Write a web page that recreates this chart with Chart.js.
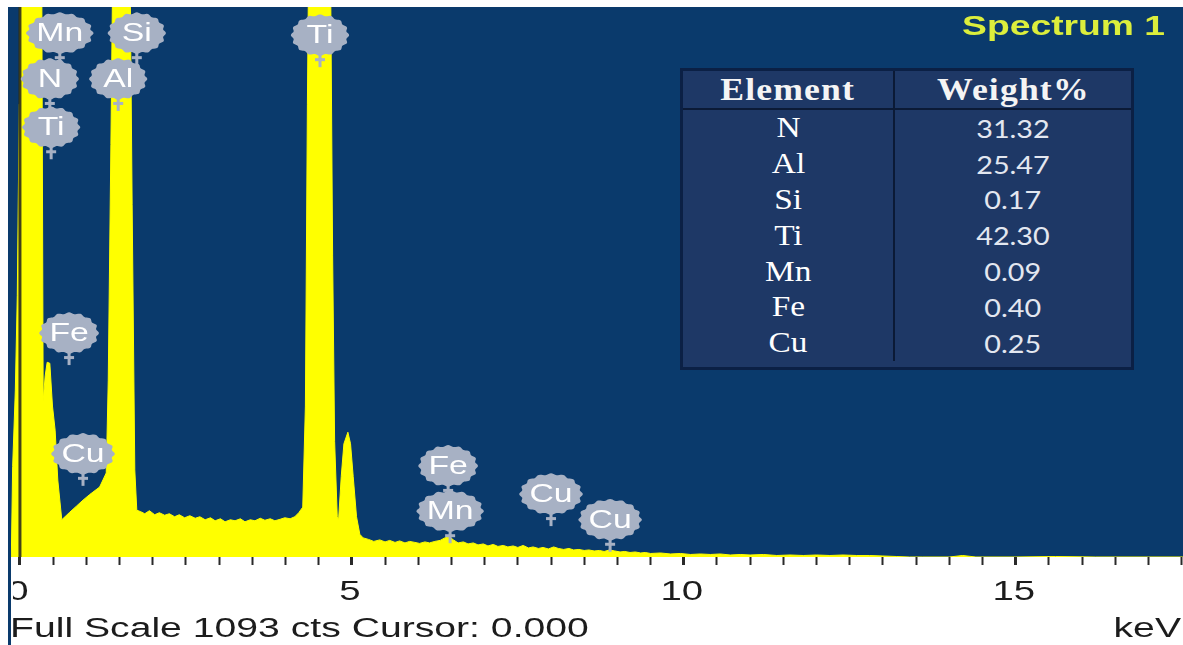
<!DOCTYPE html>
<html>
<head>
<meta charset="utf-8">
<script src="https://cdn.jsdelivr.net/npm/chart.js@4"></script>
<style>
  html, body { margin: 0; padding: 0; background: #ffffff; width: 1183px; height: 645px; overflow: hidden; }
  #wrap { position: relative; width: 1183px; height: 645px; }
  #chart { position: absolute; left: 0; top: 0; }
  #tblbox { position: absolute; left: 680px; top: 68px; width: 454px; height: 302px; box-sizing: border-box;
            border: 3px solid #0b2045; background: #1e3866; }
  #tbl { border-collapse: collapse; width: 100%; }
  #tbl th { height: 37px; padding: 0; border-bottom: 2px solid #0b1a36; color: #f4f4f4; text-align: center;
            font: bold 31px "Liberation Serif", "Times New Roman", serif; letter-spacing: 1px; }
  #tbl td { height: 35.8px; padding: 0; text-align: center; line-height: 30px; }
  #tbl th:first-child, #tbl td:first-child { border-right: 2px solid #0b1a36; width: 210px; }
  #tbl td.el { font: 29px "Liberation Serif", "Times New Roman", serif; color: #ffffff; }
  #tbl td.wt { font: 25px Lato, "Open Sans", sans-serif; color: #e3e7f0; }
  #tbl span { display: inline-block; transform: scaleX(1.15); }
</style>
</head>
<body>
<div id="wrap">
  <canvas id="chart" width="1183" height="645"></canvas>
  <div id="tblbox">
    <table id="tbl"><thead><tr><th><span>Element</span></th><th><span>Weight%</span></th></tr></thead><tbody id="tbody"></tbody></table>
  </div>
</div>
<script>
// ---------- data ----------
const energyKeV = [
  -0.18, -0.13, -0.11, -0.07, -0.04, -0.01, 0.00, 0.05, 0.15, 0.25, 0.32, 0.35, 0.38, 0.41, 0.45, 0.49, 0.53, 0.57, 0.63,
  0.75, 0.85, 0.95, 1.05, 1.20, 1.30, 1.33, 1.37, 1.40, 1.45, 1.50, 1.56, 1.62, 1.66, 1.69, 1.73, 1.76,
  1.82, 1.88, 1.95, 2.03, 2.10, 2.18, 2.25, 2.33, 2.40, 2.48, 2.56, 2.64, 2.71, 2.79, 2.87, 2.94, 3.02, 3.09, 3.17,
  3.24, 3.32, 3.39, 3.47, 3.54, 3.62, 3.69, 3.77, 3.84, 3.92, 3.99, 4.07, 4.14, 4.20, 4.26,
  4.30, 4.33, 4.37, 4.43, 4.50, 4.57, 4.63, 4.68, 4.71, 4.74, 4.78, 4.80, 4.84, 4.88, 4.94, 4.98, 5.02, 5.07, 5.12, 5.17,
  5.25, 5.33, 5.42, 5.50, 5.57, 5.65, 5.72, 5.80, 5.87, 5.95, 6.02, 6.10, 6.17, 6.25, 6.33, 6.40, 6.47, 6.53, 6.60,
  6.68, 6.75, 6.83, 6.90, 6.98, 7.05, 7.13, 7.20, 7.28, 7.35, 7.43, 7.50, 7.58, 7.66, 7.73, 7.81, 7.88, 7.96, 8.04,
  8.11, 8.19, 8.27, 8.34, 8.42, 8.50, 8.57, 8.65, 8.73, 8.80, 8.88, 8.96, 9.04, 9.11, 9.19, 9.27, 9.35, 9.42, 9.50,
  9.65, 9.80, 9.95, 10.10, 10.25, 10.40, 10.55, 10.70, 10.85, 11.00, 11.20, 11.40, 11.60, 11.80, 12.00, 12.20, 12.40,
  12.60, 12.80, 13.00, 13.20, 13.40, 13.60, 14.00, 14.20, 14.40, 15.00, 15.60, 16.20, 17.00, 17.52
];
const counts = [
  0, 0, 180, 330, 520, 900, 1400, 1700, 2100, 1900, 1500, 310, 360, 387, 385, 300, 252, 153, 74,
  89, 101, 113, 124, 139, 167, 350, 820, 1200, 2600, 3000, 2400, 1600, 1150, 700, 173, 93,
  90, 86, 92, 84, 88, 83, 86, 80, 84, 78, 82, 77, 80, 74, 78, 72, 76, 70, 74,
  72, 76, 70, 74, 72, 77, 73, 76, 72, 75, 78, 76, 80, 88, 99,
  300, 900, 1500, 2600, 3000, 2500, 1600, 1150, 600, 230, 80, 74, 160, 225, 248, 225, 160, 80, 45, 38,
  35, 31, 34, 30, 33, 29, 32, 28, 31, 29, 27, 30, 28, 31, 33, 38, 40, 34, 28,
  30, 26, 28, 24, 26, 22, 25, 21, 23, 20, 22, 19, 23, 18, 20, 17, 19, 16, 20,
  17, 15, 17, 14, 15, 13, 14, 12, 13, 11, 14, 12, 10, 11, 9, 10, 8, 9, 7,
  8, 6, 7, 5, 6, 5, 6, 4, 5, 4, 5, 3, 4, 3, 4, 3, 4,
  3, 3, 2, 1, 0, 0, 0, 3, 0, 0, 1, 0, 0, 0
];
const markerNames  = ['Mn', 'Si', 'Ti', 'N', 'Al', 'Ti', 'Fe', 'Cu', 'Fe', 'Mn', 'Cu', 'Cu'];
const markerKeV    = [0.60, 1.76, 4.52, 0.45, 1.48, 0.47, 0.74, 0.95, 6.45, 6.48, 8.00, 8.89];
const markerCounts = [1041, 1041, 1037, 950, 950, 854, 445, 205, 181, 91, 125, 74];
const tickValues = [0, 5, 10, 15];
const tickLabels = ['0', '5', '10', '15'];
const tableElements = ['N', 'Al', 'Si', 'Ti', 'Mn', 'Fe', 'Cu'];
const tableWeights  = ['31.32', '25.47', '0.17', '42.30', '0.09', '0.40', '0.25'];
const fullScale = 1093;
const cursorKeV = 0;
const axisMinKeV = -0.18;
const axisMaxKeV = 17.52;
const spectrumTitle = 'Spectrum 1';
const unitLabel = 'keV';

// ---------- table ----------
const tb = document.getElementById('tbody');
tableElements.forEach((el, i) => {
  const tr = document.createElement('tr');
  tr.innerHTML = '<td class="el"><span>' + el + '</span></td><td class="wt"><span>' + tableWeights[i] + '</span></td>';
  tb.appendChild(tr);
});

// ---------- helpers ----------
const SANS = '"Liberation Sans", Arial, sans-serif';
function stretchText(ctx, text, x, y, font, color, sx, align) {
  ctx.save();
  ctx.font = font;
  ctx.fillStyle = color;
  ctx.textBaseline = 'middle';
  ctx.textAlign = 'left';
  const w = ctx.measureText(text).width * sx;
  const left = align === 'center' ? x - w / 2 : (align === 'right' ? x - w : x);
  ctx.translate(left, y);
  ctx.scale(sx, 1);
  ctx.fillText(text, 0, 0);
  ctx.restore();
  return w;
}
function blob(ctx, cx, cy, w, h, color) {
  ctx.save();
  ctx.fillStyle = color;
  ctx.beginPath();
  const n = 16, steps = 160;
  for (let i = 0; i <= steps; i++) {
    const t = i / steps * Math.PI * 2;
    const r = 1 + 0.04 * Math.cos(n * t);
    const px = cx + (w / 2) * r * Math.cos(t);
    const py = cy + (h / 2) * r * Math.sin(t);
    if (i === 0) ctx.moveTo(px, py); else ctx.lineTo(px, py);
  }
  ctx.closePath();
  ctx.fill();
  ctx.restore();
}

const PLOT_BG = '#0a3a6c';
const BLOB = '#a7b1c4';

const backgroundPlugin = {
  id: 'bg',
  beforeDraw(chart) {
    const { ctx, chartArea: a } = chart;
    ctx.save();
    ctx.fillStyle = '#ffffff';
    ctx.fillRect(0, 0, chart.width, chart.height);
    ctx.fillStyle = PLOT_BG;
    ctx.fillRect(a.left, a.top, a.right - a.left, a.bottom - a.top);
    ctx.restore();
  }
};

const overlayPlugin = {
  id: 'overlay',
  afterDatasetsDraw(chart) {
    const { ctx, chartArea: a, scales } = chart;
    const xs = scales.x, ys = scales.y;
    // cursor line
    const cx = xs.getPixelForValue(cursorKeV);
    ctx.save();
    ctx.strokeStyle = 'rgba(45,45,25,0.9)';
    ctx.lineWidth = 3;
    ctx.beginPath();
    ctx.moveTo(cx, a.top);
    ctx.lineTo(cx, a.bottom);
    ctx.stroke();
    ctx.restore();
    // element markers
    ctx.save();
    ctx.beginPath();
    ctx.rect(a.left, a.top, a.right - a.left, a.bottom - a.top);
    ctx.clip();
    markerNames.forEach((name, i) => {
      const px = xs.getPixelForValue(markerKeV[i]);
      const py = ys.getPixelForValue(markerCounts[i]);
      ctx.font = '25px ' + SANS;
      const tw = ctx.measureText(name).width * 1.35;
      const w = Math.max(56, tw + 18), h = 40;
      // stem
      ctx.fillStyle = BLOB;
      ctx.fillRect(px - 1.5, py + h / 2 - 2, 3, 14);
      ctx.fillRect(px - 5, py + h / 2 + 3, 10, 3);
      blob(ctx, px, py, w, h, BLOB);
      stretchText(ctx, name, px, py + 1, '25px ' + SANS, '#ffffff', 1.35, 'center');
    });
    ctx.restore();
    // title
    stretchText(ctx, spectrumTitle, a.right - 18, a.top + 21, 'bold 27px ' + SANS, '#dcee3c', 1.38, 'right');
  },
  afterDraw(chart) {
    const { ctx, chartArea: a, scales } = chart;
    const xs = scales.x;
    ctx.save();
    ctx.beginPath();
    ctx.rect(13, a.bottom, chart.width - 13, chart.height - a.bottom);
    ctx.clip();
    tickValues.forEach((v, i) => {
      stretchText(ctx, tickLabels[i], xs.getPixelForValue(v) - 2, 593, '27px ' + SANS, '#1c1c1c', 1.42, 'center');
    });
    ctx.restore();
    stretchText(ctx, 'Full Scale ' + fullScale + ' cts Cursor: ' + cursorKeV.toFixed(3), 10, 630, '27px ' + SANS, '#1c1c1c', 1.45, 'left');
    stretchText(ctx, unitLabel, 1181, 630, '27px ' + SANS, '#1c1c1c', 1.45, 'right');
    // left frame line
    ctx.save();
    ctx.fillStyle = PLOT_BG;
    ctx.fillRect(8, a.top, 3, chart.height - a.top);
    ctx.restore();
  }
};

const ctx = document.getElementById('chart').getContext('2d');
new Chart(ctx, {
  type: 'line',
  data: {
    datasets: [{
      data: energyKeV.map((e, i) => ({ x: e, y: counts[i] })),
      borderColor: '#ffff00',
      backgroundColor: '#ffff00',
      borderWidth: 1,
      fill: 'origin',
      pointRadius: 0,
      tension: 0
    }]
  },
  options: {
    responsive: false,
    animation: false,
    devicePixelRatio: 1,
    layout: { padding: { left: 8, right: 0, top: 7, bottom: 0 } },
    plugins: { legend: { display: false }, tooltip: { enabled: false }, title: { display: false } },
    scales: {
      x: {
        type: 'linear',
        min: axisMinKeV,
        max: axisMaxKeV,
        afterFit(scale) { scale.height = 88; },
        afterBuildTicks(scale) {
          scale.ticks = scale.ticks.filter(t => Math.abs(t.value * 2 - Math.round(t.value * 2)) < 1e-6);
        },
        ticks: { stepSize: 0.5, includeBounds: false, autoSkip: false, display: false },
        grid: {
          drawOnChartArea: false,
          drawTicks: true,
          tickLength: 8,
          tickColor: '#2a2a2a',
          tickWidth: (c) => (c.tick && Math.abs(c.tick.value / 5 - Math.round(c.tick.value / 5)) < 1e-6) ? 3 : 2
        },
        border: { display: false }
      },
      y: { display: false, min: 0, max: fullScale }
    }
  },
  plugins: [backgroundPlugin, overlayPlugin]
});
</script>
</body>
</html>
